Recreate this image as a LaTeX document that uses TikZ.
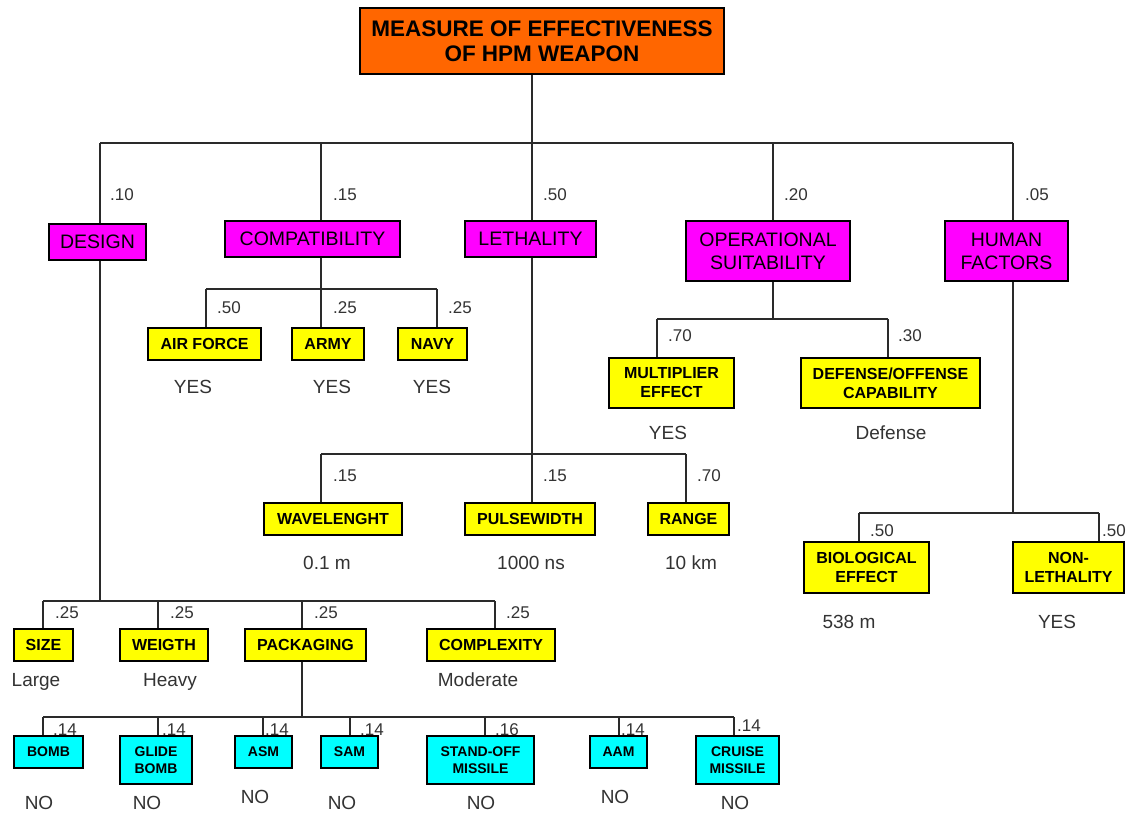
\documentclass[tikz,border=0pt]{standalone}
\usepackage{fontspec}
\setmainfont{Liberation Sans}
\definecolor{orng}{HTML}{FF6600}
\definecolor{mgnt}{HTML}{FF00FF}
\definecolor{yllw}{HTML}{FFFF00}
\definecolor{cyn}{HTML}{00FFFF}
\definecolor{txtgray}{HTML}{333333}
\definecolor{linegray}{HTML}{2A2A2A}
\tikzset{
  box/.style={draw=black, line width=1.3pt, inner sep=0pt, align=center, text=black},
  rootbox/.style={box, fill=orng, font=\bfseries\fontsize{22.5}{25}\selectfont},
  lvlone/.style={box, fill=mgnt, font=\fontsize{19.5}{23}\selectfont},
  yelbox/.style={box, fill=yllw, font=\bfseries\fontsize{16}{19}\selectfont},
  cynbox/.style={box, fill=cyn, font=\bfseries\fontsize{14}{16.7}\selectfont},
  wt/.style={anchor=west, inner sep=0pt, text=txtgray, text height=12.2pt, text depth=0pt, font=\fontsize{17}{17}\selectfont},
  val/.style={inner sep=0pt, text=txtgray, text height=13.6pt, text depth=0pt, font=\fontsize{19}{19}\selectfont},
  conn/.style={draw=linegray, line width=1.2pt},
}
\begin{document}
\begin{tikzpicture}[x=1pt,y=-1pt]
\useasboundingbox (0,0) rectangle (1132,813);
\fill[white] (0,0) rectangle (1132,813);

% ---------- root ----------
\node[rootbox, minimum width=364pt, minimum height=66pt] (root) at (542,41) {MEASURE OF EFFECTIVENESS\\OF HPM WEAPON};

% ---------- level 1 ----------
\node[lvlone, minimum width=97pt, minimum height=36pt] (design) at (97.5,242) {DESIGN};
\node[lvlone, minimum width=175pt, minimum height=36pt] (compat) at (312.5,239) {COMPATIBILITY};
\node[lvlone, minimum width=131pt, minimum height=36pt] (leth) at (530.5,239) {LETHALITY};
\node[lvlone, minimum width=164pt, minimum height=60pt] (ops) at (768,251) {OPERATIONAL\\SUITABILITY};
\node[lvlone, minimum width=123pt, minimum height=60pt] (human) at (1006.5,251) {HUMAN\\FACTORS};

\coordinate (ba) at (100,143);
\coordinate (bb) at (321,143);
\coordinate (bc) at (532,143);
\coordinate (bd) at (773,143);
\coordinate (be) at (1013,143);
\draw[conn] (root.south -| bc) -- (bc);
\draw[conn] (ba) -- (be);
\draw[conn] (ba) -- (ba |- design.north);
\draw[conn] (bb) -- (bb |- compat.north);
\draw[conn] (bc) -- (bc |- leth.north);
\draw[conn] (bd) -- (bd |- ops.north);
\draw[conn] (be) -- (be |- human.north);

\node[wt] (wa) at (110,194) {.10};
\node[wt] (wb) at (333,194) {.15};
\node[wt] (wc) at (543,194) {.50};
\node[wt] (wd) at (784,194) {.20};
\node[wt] (we) at (1025,194) {.05};

% ---------- compatibility ----------
\node[yelbox, minimum width=113pt, minimum height=32pt] (airforce) at (204.5,344) {AIR FORCE};
\node[yelbox, minimum width=72pt, minimum height=32pt] (army) at (328,344) {ARMY};
\node[yelbox, minimum width=69pt, minimum height=32pt] (navy) at (432.5,344) {NAVY};
\coordinate (cpa) at (206,289);
\coordinate (cpb) at (321,289);
\coordinate (cpc) at (437,289);
\draw[conn] (cpb |- compat.south) -- (cpb);
\draw[conn] (cpa) -- (cpc);
\draw[conn] (cpa) -- (cpa |- airforce.north);
\draw[conn] (cpb) -- (cpb |- army.north);
\draw[conn] (cpc) -- (cpc |- navy.north);
\node[wt] (wca) at (217,307) {.50};
\node[wt] (wcb) at (333,307) {.25};
\node[wt] (wcc) at (448,307) {.25};
\node[val] (vca) at (193,387) {YES};
\node[val] (vcb) at (332,387) {YES};
\node[val] (vcc) at (432,387) {YES};

% ---------- lethality ----------
\node[yelbox, minimum width=138pt, minimum height=32pt] (wave) at (333,519) {WAVELENGHT};
\node[yelbox, minimum width=130pt, minimum height=32pt] (pulse) at (530,519) {PULSEWIDTH};
\node[yelbox, minimum width=81pt, minimum height=32pt] (range) at (688.5,519) {RANGE};
\coordinate (lta) at (321,454);
\coordinate (ltb) at (532,454);
\coordinate (ltc) at (686,454);
\draw[conn] (ltb |- leth.south) -- (ltb);
\draw[conn] (lta) -- (ltc);
\draw[conn] (lta) -- (lta |- wave.north);
\draw[conn] (ltb) -- (ltb |- pulse.north);
\draw[conn] (ltc) -- (ltc |- range.north);
\node[wt] (wla) at (333,475) {.15};
\node[wt] (wlb) at (543,475) {.15};
\node[wt] (wlc) at (697,475) {.70};
\node[val] (vla) at (327,563) {0.1 m};
\node[val] (vlb) at (531,563) {1000 ns};
\node[val] (vlc) at (691,563) {10 km};

% ---------- operational suitability ----------
\node[yelbox, minimum width=125pt, minimum height=50pt] (mult) at (671.5,383) {MULTIPLIER\\EFFECT};
\node[yelbox, minimum width=179pt, minimum height=50pt] (defoff) at (890.5,383) {DEFENSE/OFFENSE\\CAPABILITY};
\coordinate (opa) at (657,319);
\coordinate (opb) at (773,319);
\coordinate (opc) at (888,319);
\draw[conn] (opb |- ops.south) -- (opb);
\draw[conn] (opa) -- (opc);
\draw[conn] (opa) -- (opa |- mult.north);
\draw[conn] (opc) -- (opc |- defoff.north);
\node[wt] (woa) at (668,335) {.70};
\node[wt] (wob) at (898,335) {.30};
\node[val] (voa) at (668,433) {YES};
\node[val] (vob) at (891,433) {Defense};

% ---------- human factors ----------
\node[yelbox, minimum width=125pt, minimum height=51pt] (bio) at (866.5,567.5) {BIOLOGICAL\\EFFECT};
\node[yelbox, minimum width=111pt, minimum height=51pt] (nonleth) at (1068.5,567.5) {NON-\\LETHALITY};
\coordinate (hfa) at (859,513);
\coordinate (hfb) at (1013,513);
\coordinate (hfc) at (1099,513);
\draw[conn] (hfb |- human.south) -- (hfb);
\draw[conn] (hfa) -- (hfc);
\draw[conn] (hfa) -- (hfa |- bio.north);
\draw[conn] (hfc) -- (hfc |- nonleth.north);
\node[wt] (wha) at (870,530) {.50};
\node[wt] (whb) at (1102,530) {.50};
\node[val] (vha) at (849,622) {538 m};
\node[val] (vhb) at (1057,622) {YES};

% ---------- design ----------
\node[yelbox, minimum width=59pt, minimum height=32pt] (size) at (43.5,645) {SIZE};
\node[yelbox, minimum width=88pt, minimum height=32pt] (weigth) at (164,645) {WEIGTH};
\node[yelbox, minimum width=121pt, minimum height=32pt] (pack) at (305.5,645) {PACKAGING};
\node[yelbox, minimum width=128pt, minimum height=32pt] (complex) at (491,645) {COMPLEXITY};
\coordinate (dsa) at (43,601);
\coordinate (dsb) at (158,601);
\coordinate (dsc) at (302,601);
\coordinate (dsd) at (495,601);
\coordinate (dsm) at (100,601);
\draw[conn] (dsm |- design.south) -- (dsm);
\draw[conn] (dsa) -- (dsd);
\draw[conn] (dsa) -- (dsa |- size.north);
\draw[conn] (dsb) -- (dsb |- weigth.north);
\draw[conn] (dsc) -- (dsc |- pack.north);
\draw[conn] (dsd) -- (dsd |- complex.north);
\node[wt] (wda) at (55,612) {.25};
\node[wt] (wdb) at (170,612) {.25};
\node[wt] (wdc) at (314,612) {.25};
\node[wt] (wdd) at (506,612) {.25};
\node[val] (vda) at (36,680) {Large};
\node[val] (vdb) at (170,680) {Heavy};
\node[val] (vdc) at (478,680) {Moderate};

% ---------- packaging ----------
\node[cynbox, minimum width=69pt, minimum height=32pt] (bomb) at (48.5,752) {BOMB};
\node[cynbox, minimum width=72pt, minimum height=48pt] (glide) at (156,760) {GLIDE\\BOMB};
\node[cynbox, minimum width=57pt, minimum height=32pt] (asm) at (263.5,752) {ASM};
\node[cynbox, minimum width=57pt, minimum height=32pt] (sam) at (349.5,752) {SAM};
\node[cynbox, minimum width=107pt, minimum height=48pt] (standoff) at (480.5,760) {STAND-OFF\\MISSILE};
\node[cynbox, minimum width=57pt, minimum height=32pt] (aam) at (618.5,752) {AAM};
\node[cynbox, minimum width=83pt, minimum height=48pt] (cruise) at (737.5,760) {CRUISE\\MISSILE};
\coordinate (pka) at (43,717);
\coordinate (pkb) at (158,717);
\coordinate (pkc) at (263,717);
\coordinate (pkd) at (350,717);
\coordinate (pke) at (485,717);
\coordinate (pkf) at (619,717);
\coordinate (pkg) at (734,717);
\coordinate (pkm) at (302,717);
\draw[conn] (pkm |- pack.south) -- (pkm);
\draw[conn] (pka) -- (pkg);
\draw[conn] (pka) -- (pka |- bomb.north);
\draw[conn] (pkb) -- (pkb |- glide.north);
\draw[conn] (pkc) -- (pkc |- asm.north);
\draw[conn] (pkd) -- (pkd |- sam.north);
\draw[conn] (pke) -- (pke |- standoff.north);
\draw[conn] (pkf) -- (pkf |- aam.north);
\draw[conn] (pkg) -- (pkg |- cruise.north);
\node[wt] (wpa) at (53,729) {.14};
\node[wt] (wpb) at (162,729) {.14};
\node[wt] (wpc) at (265,729) {.14};
\node[wt] (wpd) at (360,729) {.14};
\node[wt] (wpe) at (495,729) {.16};
\node[wt] (wpf) at (621,729) {.14};
\node[wt] (wpg) at (737,725) {.14};
\node[val] (vpa) at (39,803) {NO};
\node[val] (vpb) at (147,803) {NO};
\node[val] (vpc) at (255,797) {NO};
\node[val] (vpd) at (342,803) {NO};
\node[val] (vpe) at (481,803) {NO};
\node[val] (vpf) at (615,797) {NO};
\node[val] (vpg) at (735,803) {NO};
\end{tikzpicture}
\end{document}
